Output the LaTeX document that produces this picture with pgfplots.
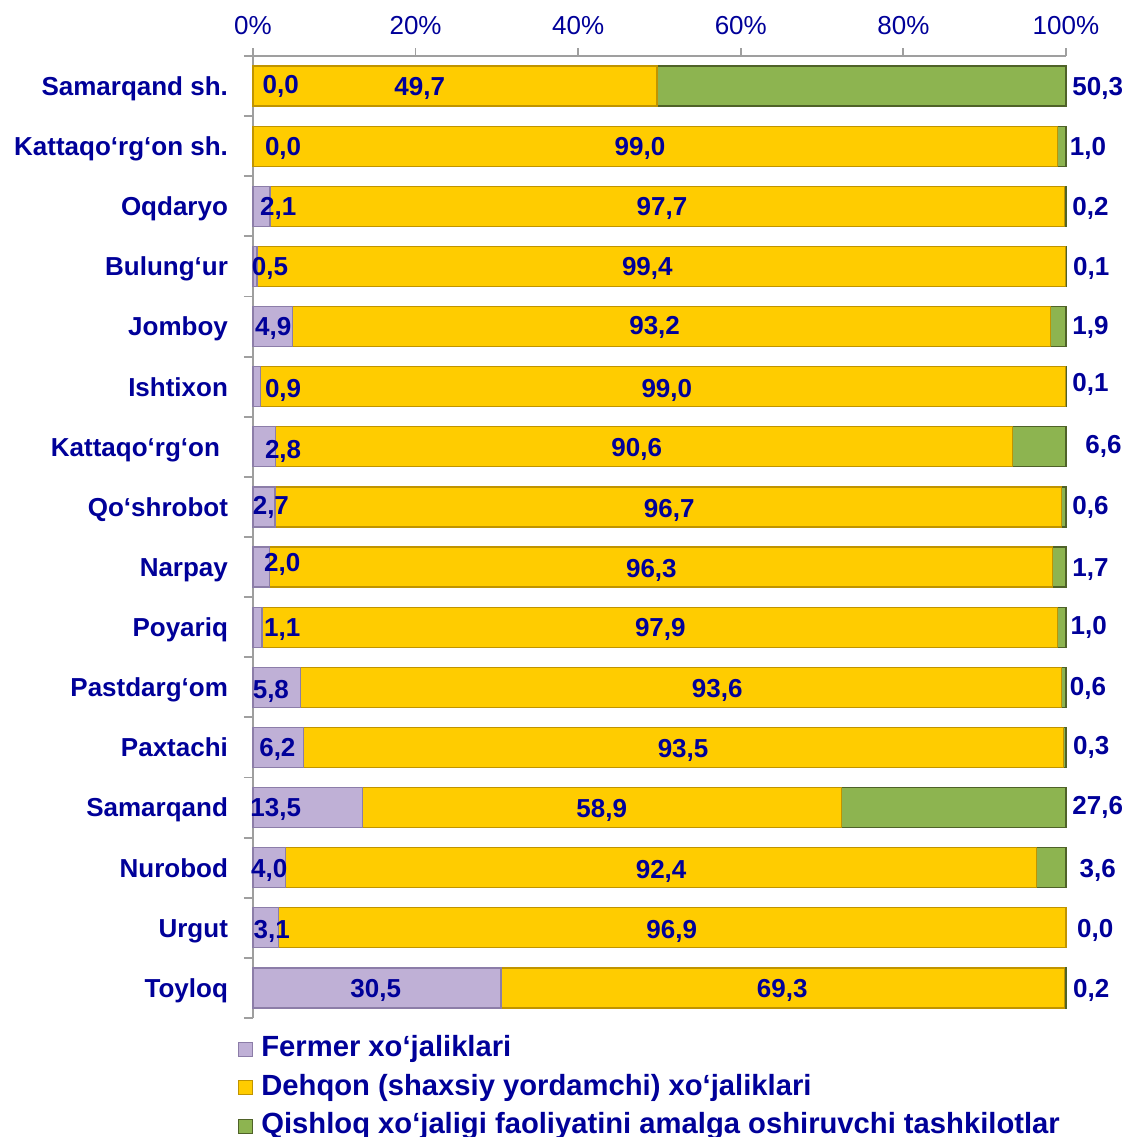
\documentclass[border=0pt]{standalone}
\usepackage{fontspec}
\setmainfont{Liberation Sans}
\usepackage{pgfplots}
\pgfplotsset{compat=1.18}
\definecolor{txt}{RGB}{0,0,153}
\definecolor{ferm}{RGB}{191,176,214}
\definecolor{fermD}{RGB}{140,125,168}
\definecolor{dehq}{RGB}{255,204,0}
\definecolor{dehqD}{RGB}{192,148,0}
\definecolor{qish}{RGB}{141,180,80}
\definecolor{qishD}{RGB}{79,98,40}
\tikzset{lb/.style={font=\bfseries\fontsize{13}{15}\selectfont, text=txt, inner sep=0pt, text height=9.4pt, text depth=0pt, anchor=center}}
\begin{document}
\begin{tikzpicture}[x=1pt,y=1pt]
\path[use as bounding box] (-126.5,28) rectangle (436.5,-540.5);
\begin{axis}[
  at={(0,0)}, anchor=north west,
  scale only axis, width=406.5pt, height=481pt,
  xbar stacked, bar width=20pt,
  xmin=0, xmax=100, ymin=-0.5, ymax=15.5, y dir=reverse,
  axis x line=top, axis y line=left,
  axis line style={-, draw=gray!75, line width=0.9pt},
  tick style={draw=gray!75, line width=0.9pt},
  tick align=outside,
  xtick={0,20,...,100},
  xticklabels={0\%,20\%,40\%,60\%,80\%,100\%},
  xticklabel style={font=\fontsize{13}{15}\selectfont, text=txt, yshift=3pt},
  major tick length=4pt,
  ytick={0,...,15},
  major y tick style={draw=none},
  minor ytick={-0.5,0.5,...,15.5},
  minor tick length=4.5pt,
  yticklabels={{Samarqand sh.},{Kattaqo‘rg‘on sh.},{Oqdaryo},{Bulung‘ur},{Jomboy},{Ishtixon},{Kattaqo‘rg‘on\hspace*{4pt}},{Qo‘shrobot},{Narpay},{Poyariq},{Pastdarg‘om},{Paxtachi},{Samarqand},{Nurobod},{Urgut},{Toyloq}},
  yticklabel style={font=\bfseries\fontsize{13}{15}\selectfont, text=txt, xshift=-5pt, text height=9.4pt, text depth=0pt},
  legend style={draw=none, fill=none, at={(0,0)}, anchor=north west, xshift=-7.5pt, yshift=-7.6pt,
    inner sep=0pt, row sep=3.65pt, font=\bfseries\fontsize{14.6}{17}\selectfont, text=txt,
    nodes={inner sep=1pt, text height=10.5pt, text depth=3.1pt},
    /tikz/every odd column/.append style={column sep=3pt}},
  legend cell align=left,
  legend image code/.code={\draw[#1, line width=0.5pt] (0pt,-3.5pt) rectangle (7pt,3.5pt);},
  clip=false,
]
\addplot[fill=ferm, draw=fermD, line width=0.6pt] coordinates {
 (0.0,0) (0.0,1) (2.1,2) (0.5,3) (4.9,4) (0.9,5) (2.8,6) (2.7,7)
 (2.0,8) (1.1,9) (5.8,10) (6.2,11) (13.5,12) (4.0,13) (3.1,14) (30.5,15)};
\addlegendentry{Fermer xo‘jaliklari}
\addplot[fill=dehq, draw=dehqD, line width=0.6pt] coordinates {
 (49.7,0) (99.0,1) (97.7,2) (99.4,3) (93.2,4) (99.0,5) (90.6,6) (96.7,7)
 (96.3,8) (97.9,9) (93.6,10) (93.5,11) (58.9,12) (92.4,13) (96.9,14) (69.3,15)};
\addlegendentry{Dehqon (shaxsiy yordamchi) xo‘jaliklari}
\addplot[fill=qish, draw=qishD, line width=0.6pt] coordinates {
 (50.3,0) (1.0,1) (0.2,2) (0.1,3) (1.9,4) (0.1,5) (6.6,6) (0.6,7)
 (1.7,8) (1.0,9) (0.6,10) (0.3,11) (27.6,12) (3.6,13) (0.0,14) (0.2,15)};
\addlegendentry{Qishloq xo‘jaligi faoliyatini amalga oshiruvchi tashkilotlar}
% label anchor points (Fermer, Dehqon, Qishloq)
\coordinate (f0) at (3.4,0);  \coordinate (d0) at (20.5,0);  \coordinate (q0) at (103.9,0);
\coordinate (f1) at (3.7,1);  \coordinate (d1) at (47.6,1);  \coordinate (q1) at (102.7,1);
\coordinate (f2) at (3.1,2);  \coordinate (d2) at (50.3,2);  \coordinate (q2) at (103.0,2);
\coordinate (f3) at (2.1,3);  \coordinate (d3) at (48.5,3);  \coordinate (q3) at (103.1,3);
\coordinate (f4) at (2.5,4);  \coordinate (d4) at (49.4,4);  \coordinate (q4) at (103.0,4);
\coordinate (f5) at (3.7,5);  \coordinate (d5) at (50.9,5);  \coordinate (q5) at (103.0,5);
\coordinate (f6) at (3.7,6);  \coordinate (d6) at (47.2,6);  \coordinate (q6) at (104.6,6);
\coordinate (f7) at (2.2,7);  \coordinate (d7) at (51.2,7);  \coordinate (q7) at (103.0,7);
\coordinate (f8) at (3.6,8);  \coordinate (d8) at (49.0,8);  \coordinate (q8) at (103.0,8);
\coordinate (f9) at (3.6,9);  \coordinate (d9) at (50.1,9);  \coordinate (q9) at (102.8,9);
\coordinate (f10) at (2.2,10); \coordinate (d10) at (57.1,10); \coordinate (q10) at (102.7,10);
\coordinate (f11) at (3.0,11); \coordinate (d11) at (52.9,11); \coordinate (q11) at (103.1,11);
\coordinate (f12) at (2.8,12); \coordinate (d12) at (42.9,12); \coordinate (q12) at (103.9,12);
\coordinate (f13) at (2.0,13); \coordinate (d13) at (50.2,13); \coordinate (q13) at (103.9,13);
\coordinate (f14) at (2.3,14); \coordinate (d14) at (51.5,14); \coordinate (q14) at (103.6,14);
\coordinate (f15) at (15.1,15); \coordinate (d15) at (65.1,15); \coordinate (q15) at (103.1,15);
\end{axis}
% Fermer labels
\node[lb,yshift=1pt] at (f0) {0,0};
\node[lb] at (f1) {0,0};
\node[lb] at (f2) {2,1};
\node[lb] at (f3) {0,5};
\node[lb] at (f4) {4,9};
\node[lb,yshift=-0.5pt] at (f5) {0,9};
\node[lb,yshift=-1pt] at (f6) {2,8};
\node[lb,yshift=1pt] at (f7) {2,7};
\node[lb,yshift=2.5pt] at (f8) {2,0};
\node[lb] at (f9) {1,1};
\node[lb,yshift=-1pt] at (f10) {5,8};
\node[lb] at (f11) {6,2};
\node[lb] at (f12) {13,5};
\node[lb] at (f13) {4,0};
\node[lb,yshift=-0.5pt] at (f14) {3,1};
\node[lb] at (f15) {30,5};
% Dehqon labels
\node[lb] at (d0) {49,7};
\node[lb] at (d1) {99,0};
\node[lb] at (d2) {97,7};
\node[lb] at (d3) {99,4};
\node[lb,yshift=0.5pt] at (d4) {93,2};
\node[lb,yshift=-0.5pt] at (d5) {99,0};
\node[lb] at (d6) {90,6};
\node[lb,yshift=-0.5pt] at (d7) {96,7};
\node[lb,yshift=-0.5pt] at (d8) {96,3};
\node[lb] at (d9) {97,9};
\node[lb,yshift=-0.5pt] at (d10) {93,6};
\node[lb,yshift=-0.5pt] at (d11) {93,5};
\node[lb,yshift=-0.5pt] at (d12) {58,9};
\node[lb,yshift=-0.5pt] at (d13) {92,4};
\node[lb,yshift=-0.5pt] at (d14) {96,9};
\node[lb] at (d15) {69,3};
% Qishloq labels
\node[lb] at (q0) {50,3};
\node[lb] at (q1) {1,0};
\node[lb] at (q2) {0,2};
\node[lb] at (q3) {0,1};
\node[lb,yshift=0.5pt] at (q4) {1,9};
\node[lb,yshift=2.5pt] at (q5) {0,1};
\node[lb,yshift=1.5pt] at (q6) {6,6};
\node[lb,yshift=1pt] at (q7) {0,6};
\node[lb] at (q8) {1,7};
\node[lb,yshift=1pt] at (q9) {1,0};
\node[lb,yshift=0.5pt] at (q10) {0,6};
\node[lb,yshift=1pt] at (q11) {0,3};
\node[lb,yshift=1pt] at (q12) {27,6};
\node[lb] at (q13) {3,6};
\node[lb] at (q14) {0,0};
\node[lb] at (q15) {0,2};
\end{tikzpicture}
\end{document}
